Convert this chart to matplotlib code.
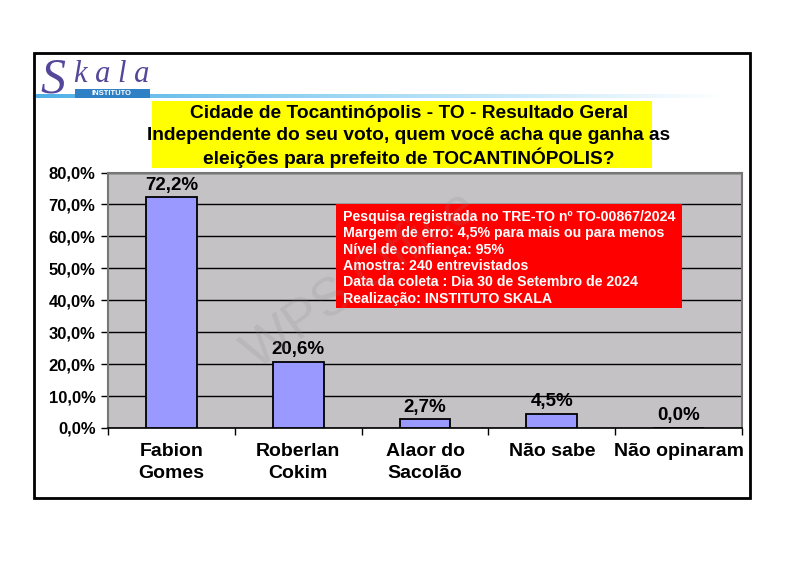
import matplotlib.pyplot as plt
from matplotlib.patches import Rectangle
from matplotlib.colors import LinearSegmentedColormap
import numpy as np

plt.rcParams['font.family'] = ['Liberation Sans', 'DejaVu Sans']

# dados
categorias = ['Fabion\nGomes', 'Roberlan\nCokim', 'Alaor do\nSacolão', 'Não sabe', 'Não opinaram']
valores = [72.2, 20.6, 2.7, 4.5, 0.0]
yticks = [0, 10, 20, 30, 40, 50, 60, 70, 80]

titulo = ['Cidade de Tocantinópolis - TO - Resultado Geral',
          'Independente do seu voto, quem você acha que ganha as',
          'eleições para prefeito de TOCANTINÓPOLIS?']
info = ['Pesquisa registrada no TRE-TO nº TO-00867/2024',
        'Margem de erro: 4,5% para mais ou para menos',
        'Nível de confiança: 95%',
        'Amostra: 240 entrevistados',
        'Data da coleta : Dia 30 de Setembro de 2024',
        'Realização: INSTITUTO SKALA']

W, H = 794, 561
fig = plt.figure(figsize=(W / 100, H / 100), dpi=100)


def fx(x):
    return x / W


def fy(y):
    return 1 - y / H


# moldura externa
fig.patches.append(Rectangle((fx(34), fy(498)), fx(750 - 34), (498 - 53) / H,
                             transform=fig.transFigure, fill=False,
                             edgecolor='black', linewidth=2))

# linha azul do logo (degrade)
lax = fig.add_axes([fx(36), fy(98), fx(690), 4 / H])
grad = np.linspace(0, 1, 256).reshape(1, -1)
cm = LinearSegmentedColormap.from_list('azul', ['#4fb0e6', '#a8dcf5', '#ffffff'])
lax.imshow(grad, aspect='auto', cmap=cm)
lax.axis('off')

# logo
fig.text(fx(40), fy(92), 'S', fontsize=36, style='italic',
         family='Liberation Serif', color='#54479a')
fig.text(fx(74), fy(82), 'k a l a', fontsize=22, style='italic',
         family='Liberation Serif', color='#54479a', va='baseline')
fig.patches.append(Rectangle((fx(75), fy(98)), fx(75), 9 / H,
                             transform=fig.transFigure, facecolor='#2f80c4',
                             edgecolor='none'))
fig.text(fx(112), fy(93.5), 'INSTITUTO', fontsize=5.5, weight='bold',
         color='white', ha='center', va='center')

# titulo
fig.patches.append(Rectangle((fx(152), fy(168)), fx(500), (168 - 101) / H,
                             transform=fig.transFigure, facecolor='#ffff00',
                             edgecolor='none'))
for i, linha in enumerate(titulo):
    fig.text(fx(409), fy(114 + 22 * i), linha, fontsize=13.8, weight='bold',
             ha='center', va='center')

# grafico
ax = fig.add_axes([fx(108), fy(428), fx(742 - 108), (428 - 172.5) / H])
ax.set_facecolor('#c4c2c4')
x = np.arange(len(categorias))
ax.bar(x, valores, width=0.4, color='#9999ff', edgecolor='black',
       linewidth=1.3, zorder=3)
for xi, v in zip(x, valores):
    ax.text(xi, v + 1.2, f'{v:.1f}%'.replace('.', ','), ha='center',
            va='bottom', fontsize=13.5, weight='bold', zorder=4)

ax.set_xlim(-0.5, len(categorias) - 0.5)
ax.set_ylim(0, 80)
ax.set_yticks(yticks)
ax.set_yticklabels([f'{t},0%' for t in yticks], fontsize=12, weight='bold')
ax.set_xticks(np.arange(len(categorias) + 1) - 0.5, minor=False)
ax.set_xticklabels([])
ax.set_xticks(x, minor=True)
labs = ax.set_xticklabels(categorias, minor=True, fontsize=14, weight='bold')
for lb in labs:
    lb.set_linespacing(1.35)
ax.tick_params(axis='x', which='minor', length=0, pad=11)
ax.tick_params(axis='x', which='major', length=5, direction='out', width=1)
ax.tick_params(axis='y', length=5, direction='out', width=1, pad=4)
ax.yaxis.grid(True, color='black', linewidth=1, zorder=1)
ax.set_axisbelow(True)
for s in ['top', 'right', 'left']:
    ax.spines[s].set_color('#777777')
    ax.spines[s].set_linewidth(1.5)
ax.spines['bottom'].set_color('black')
ax.spines['bottom'].set_linewidth(1.2)

# caixa de informacoes
fig.patches.append(Rectangle((fx(336), fy(308)), fx(346), (308 - 204) / H,
                             transform=fig.transFigure, facecolor='#ff0000',
                             edgecolor='none', zorder=5))
for i, linha in enumerate(info):
    fig.text(fx(343), fy(217 + 16.3 * i), linha, fontsize=10.2, weight='bold',
             color='white', ha='left', va='center', zorder=6)

# marca d'agua
fig.text(fx(360), fy(280), 'WPS Office', fontsize=38, color='#888888',
         alpha=0.18, rotation=35, ha='center', va='center', zorder=7)

fig.savefig('out.png', dpi=100)
